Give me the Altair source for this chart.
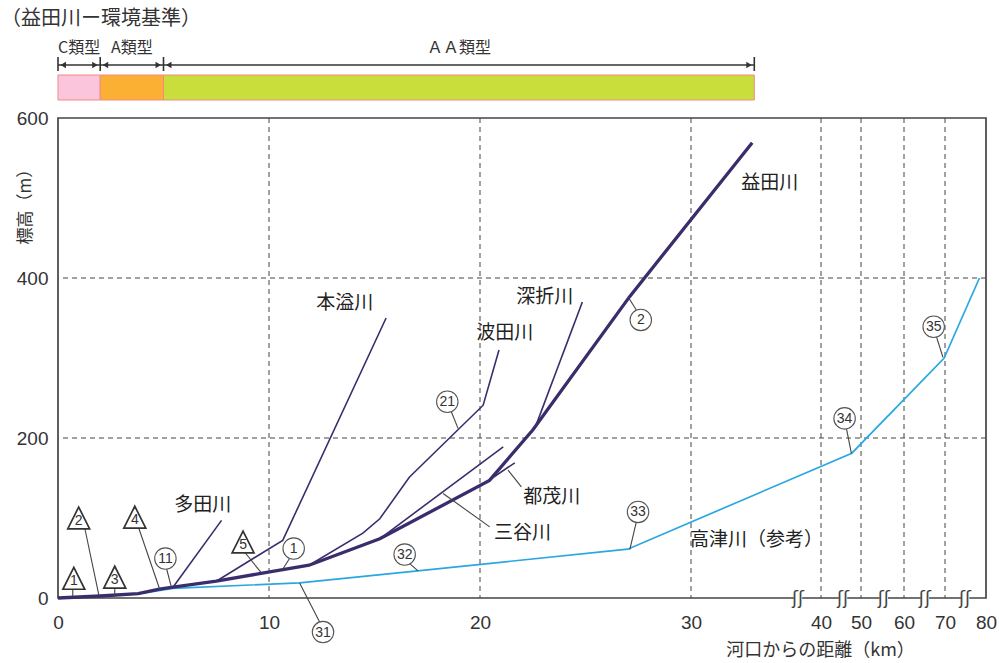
import altair as alt
import pandas as pd

# ---------------- scales / ticks ----------------
X_DOMAIN = [0, 35, 40, 50, 60, 70, 80]
X_RANGE = [0, 738.5, 763, 803, 846, 887, 928]
x_ticks = [0, 10, 20, 30, 40, 50, 60, 70, 80]
y_ticks = [0, 200, 400, 600]
grid_x = [10, 20, 30, 40, 50, 60, 70]
grid_y = [200, 400]
break_km = [35.3, 45.5, 55.3, 65.1, 74.9]

# ---------------- rivers ----------------
masuda_km = [0, 2.0, 3.8, 4.8, 5.45, 7.5, 9.55, 11.9, 15.25, 20.45, 22.5, 27.1, 32.9]
masuda_m = [0, 2.5, 5.5, 11, 13.5, 21, 30.5, 41, 74, 147, 210, 377, 569]

trib_names = ["多田川", "本溢川", "波田川", "三谷川", "都茂川", "深折川"]
trib_km = [
    [5.45, 7.75],
    [7.5, 10.65, 15.55],
    [11.9, 14.45, 15.25, 16.65, 20.15, 20.9],
    [15.25, 21.1],
    [20.3, 21.65],
    [22.6, 24.85],
]
trib_m = [
    [13.5, 97],
    [21, 72, 350],
    [41, 81, 99, 151, 241, 310],
    [74, 189],
    [145, 169],
    [212, 370],
]

takatsu_km = [0, 3.8, 5.45, 11.45, 17.05, 27.0, 47.7, 59.8, 69.8, 78.4]
takatsu_m = [0, 5, 12, 19, 34, 61, 181, 247, 300, 400]

# ---------------- river name labels ----------------
label_text = ["益田川", "深折川", "波田川", "本溢川", "多田川", "都茂川", "三谷川", "高津川（参考）"]
label_km = [33.73, 23.07, 21.17, 13.59, 6.86, 23.4, 22.02, 33.1]
label_m = [519, 376, 331, 368.6, 116, 126, 81, 72.2]

# ---------------- circled station numbers ----------------
circ_text = ["11", "1", "21", "2", "31", "32", "33", "34", "35"]
circ_km = [5.09, 11.17, 18.45, 27.62, 12.56, 16.43, 27.49, 45.9, 67.24]
circ_m = [49.3, 61.8, 245.3, 347.6, -42.6, 54.3, 107.6, 224.5, 339]

# ---------------- triangle station numbers ----------------
tri_text = ["1", "2", "3", "4", "5"]
tri_km = [0.75, 0.98, 2.69, 3.64, 8.77]
tri_m = [24.6, 100, 26, 101, 70]

# ---------------- leader lines (start km/m -> end km/m) ----------------
lead_km1 = [5.14, 10.98, 18.64, 27.41, 12.4, 16.67, 27.41, 46.35, 67.9,
            0.7, 1.27, 2.69, 3.83, 8.85, 21.33, 18.25]
lead_m1 = [37.2, 49.7, 232.8, 360, -30, 43, 95.1, 212, 326.7,
           12, 87.2, 12, 87.2, 57.2, 159.8, 130.7]
lead_km2 = [5.37, 10.65, 18.96, 27.01, 11.45, 17.06, 27.1, 47.6, 69.5,
            0.7, 1.94, 2.69, 4.82, 9.64, 21.96, 20.46]
lead_m2 = [13.8, 35.9, 212, 376.7, 18.8, 33.8, 60.6, 180.7, 300.9,
           2, 3.4, 3.4, 10.9, 31.3, 139, 88.9]

# ---------------- environmental standard band ----------------
band_text = ["C類型", "A類型", "ＡＡ類型"]
band_start = [0, 2, 5]
band_end = [2, 5, 33]
band_color = ["#fbc6dc", "#fbb034", "#c9dd3b"]
band_ticks = [0, 2, 5, 33]
arrow_km = [0.25, 1.75, 2.25, 4.75, 5.25, 32.75]
arrow_shape = ["triangle-left", "triangle-right", "triangle-left",
               "triangle-right", "triangle-left", "triangle-right"]

TITLE = "（益田川ー環境基準）"

# ---------------- build ----------------
JP = "Noto Sans CJK JP"
NUM = "Liberation Sans"
INK = "#444444"
PURPLE = "#3b2c6c"
BLUE = "#2aa7e1"

xs = alt.Scale(domain=X_DOMAIN, range=X_RANGE, nice=False, zero=False)
ys = alt.Scale(domain=[0, 600], nice=False, zero=False)

x_axis = alt.Axis(values=x_ticks, title="河口からの距離（km）", titleFont=JP,
                  titleFontSize=18, titleFontWeight="normal", titleColor="#333",
                  titleX=762, titleY=52, titleAlign="center", titleBaseline="middle",
                  labelFont=NUM, labelFontSize=19, labelColor="#333", labelPadding=15,
                  labelFlush=False, labelOverlap=False, ticks=False, domain=False, grid=False)
y_axis = alt.Axis(values=y_ticks, title="標高（m）", titleFont=JP,
                  titleFontSize=17, titleFontWeight="normal", titleColor="#333",
                  titleX=-33, titleY=84, titleAngle=270, titleAlign="center",
                  titleBaseline="middle",
                  labelFont=NUM, labelFontSize=19, labelColor="#333", labelPadding=10,
                  labelFlush=False, labelOverlap=False, ticks=False, domain=False, grid=False)


def X(f):
    return alt.X(f, type="quantitative", scale=xs, axis=x_axis)


def Y(f):
    return alt.Y(f, type="quantitative", scale=ys, axis=y_axis)


grid_v = alt.Chart(pd.DataFrame({"km": grid_x})).mark_rule(
    color=INK, strokeWidth=1, strokeDash=[5, 4]).encode(x=X("km"))
grid_h = alt.Chart(pd.DataFrame({"m": grid_y})).mark_rule(
    color=INK, strokeWidth=1, strokeDash=[5, 4]).encode(y=Y("m"))

rows = []
for name, kms, ms in zip(trib_names, trib_km, trib_m):
    for i, (k, m) in enumerate(zip(kms, ms)):
        rows.append({"river": name, "km": k, "m": m, "o": i})
trib_df = pd.DataFrame(rows)

main_df = pd.DataFrame({"km": masuda_km, "m": masuda_m, "o": range(len(masuda_km))})
tak_df = pd.DataFrame({"km": takatsu_km, "m": takatsu_m, "o": range(len(takatsu_km))})

blue_line = alt.Chart(tak_df).mark_line(color=BLUE, strokeWidth=1.7).encode(
    x=X("km"), y=Y("m"), order="o:Q")
trib_lines = alt.Chart(trib_df).mark_line(color=PURPLE, strokeWidth=1.6).encode(
    x=X("km"), y=Y("m"), detail="river:N", order="o:Q")
main_line = alt.Chart(main_df).mark_line(color=PURPLE, strokeWidth=3.3).encode(
    x=X("km"), y=Y("m"), order="o:Q")

lead_df = pd.DataFrame({"km": lead_km1, "m": lead_m1, "km2": lead_km2, "m2": lead_m2})
leaders = alt.Chart(lead_df).mark_rule(color=INK, strokeWidth=1.1).encode(
    x=X("km"), y=Y("m"), x2="km2:Q", y2="m2:Q")

circ_df = pd.DataFrame({"km": circ_km, "m": circ_m, "t": circ_text})
circ_pts = alt.Chart(circ_df).mark_point(
    shape="circle", filled=True, fill="white", stroke="#555", strokeWidth=1.1,
    size=460, opacity=1).encode(x=X("km"), y=Y("m"))
circ_txt = alt.Chart(circ_df).mark_text(
    font=NUM, fontSize=14, color="#333", baseline="middle", dy=0.5).encode(
    x=X("km"), y=Y("m"), text="t:N")

tri_df = pd.DataFrame({"km": tri_km, "m": tri_m, "t": tri_text})
tri_pts = alt.Chart(tri_df).mark_point(
    shape="M-1,1L1,1L0,-1Z", filled=True, fill="white", stroke="#333", strokeWidth=1.7,
    size=480, opacity=1).encode(x=X("km"), y=Y("m"))
tri_txt = alt.Chart(tri_df).mark_text(
    font=NUM, fontSize=14, color="#333", baseline="middle", dy=3).encode(
    x=X("km"), y=Y("m"), text="t:N")

lab_df = pd.DataFrame({"km": label_km, "m": label_m, "t": label_text})
labels = alt.Chart(lab_df).mark_text(
    font=JP, fontSize=19, color="#222", baseline="middle", align="center").encode(
    x=X("km"), y=Y("m"), text="t:N")

brk_df = pd.DataFrame({"km": break_km, "m": [0] * len(break_km)})
brk_bg = alt.Chart(brk_df).mark_point(
    shape="square", filled=True, fill="white", strokeWidth=0, size=70, opacity=1).encode(
    x=X("km"), y=Y("m"))
brk_txt = alt.Chart(brk_df).mark_text(
    text="ʃʃ", font="DejaVu Sans", fontSize=18, color=INK, baseline="middle", dy=1).encode(
    x=X("km"), y=Y("m"))

band_df = pd.DataFrame({"km": band_start, "km2": band_end, "c": band_color,
                        "t": band_text,
                        "mid": [(a + b) / 2 for a, b in zip(band_start, band_end)]})
band = alt.Chart(band_df).mark_rect(stroke="#f08a8a", strokeWidth=1).encode(
    x=X("km"), x2="km2:Q", y=alt.value(-43), y2=alt.value(-18),
    color=alt.Color("c:N", scale=None))
band_lab = alt.Chart(band_df).mark_text(
    font=JP, fontSize=16, color="#333", baseline="middle").encode(
    x=X("mid"), y=alt.value(-70), text="t:N")

arrow_line = alt.Chart(pd.DataFrame({"km": [band_ticks[0]], "km2": [band_ticks[-1]]})).mark_rule(
    color="#333", strokeWidth=1.6).encode(x=X("km"), x2="km2:Q", y=alt.value(-53))
arrow_ticks = alt.Chart(pd.DataFrame({"km": band_ticks})).mark_rule(
    color="#333", strokeWidth=1.6).encode(x=X("km"), y=alt.value(-61), y2=alt.value(-47))
arrow_df = pd.DataFrame({"km": arrow_km, "s": arrow_shape})
arrow_heads = alt.Chart(arrow_df).mark_point(
    filled=True, color="#333", size=40, opacity=1).encode(
    x=X("km"), y=alt.value(-53), shape=alt.Shape("s:N", scale=None))

title = alt.Chart(pd.DataFrame({"t": [TITLE]})).mark_text(
    font=JP, fontSize=20, color="#333", align="left", baseline="middle").encode(
    x=alt.value(-57), y=alt.value(-99), text="t:N")

chart = alt.layer(
    grid_v, grid_h, blue_line, trib_lines, main_line, leaders,
    circ_pts, circ_txt, tri_pts, tri_txt, labels, brk_bg, brk_txt,
    band, band_lab, arrow_line, arrow_ticks, arrow_heads, title
).properties(
    width=928, height=480,
    padding={"left": 58, "top": 118, "right": 13, "bottom": 65},
    autosize=alt.AutoSizeParams(type="none"),
    background="white",
).configure_view(stroke=INK, strokeWidth=1.7)

chart.save("out.html", embed_options={"renderer": "svg", "actions": False})
